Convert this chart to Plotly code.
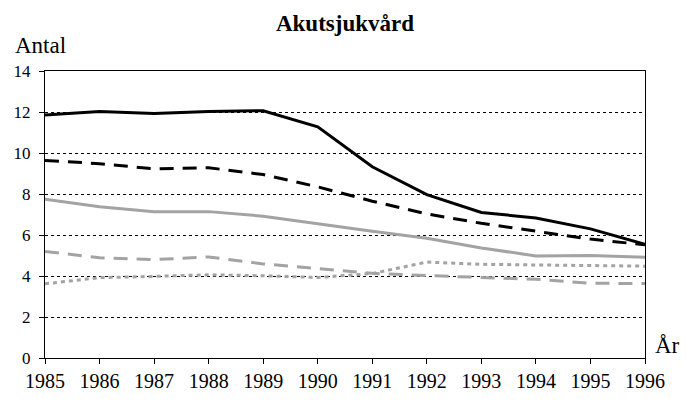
import plotly.graph_objects as go

years = [1985, 1986, 1987, 1988, 1989, 1990, 1991, 1992, 1993, 1994, 1995, 1996]
solid_black = [11.85, 12.03, 11.93, 12.03, 12.06, 11.28, 9.33, 7.97, 7.10, 6.83, 6.30, 5.55]
dashed_black = [9.64, 9.48, 9.23, 9.28, 8.95, 8.35, 7.65, 7.03, 6.57, 6.18, 5.80, 5.52]
solid_gray = [7.75, 7.38, 7.14, 7.14, 6.92, 6.54, 6.18, 5.84, 5.37, 4.98, 5.00, 4.92]
dashed_gray = [5.20, 4.89, 4.80, 4.93, 4.59, 4.36, 4.13, 4.02, 3.93, 3.84, 3.65, 3.63]
dotted_gray = [3.62, 3.92, 3.98, 4.06, 4.01, 3.93, 4.12, 4.68, 4.57, 4.55, 4.50, 4.48]
y_ticks = [0, 2, 4, 6, 8, 10, 12, 14]

FONT = "Liberation Serif"
TICKFONT = "Times New Roman"
GRAY = "#a3a3a3"

fig = go.Figure()
series = [
    (dotted_gray, GRAY, "4px,4px"),
    (dashed_gray, GRAY, "14px,9px"),
    (solid_gray, GRAY, "solid"),
    (dashed_black, "black", "14px,9px"),
    (solid_black, "black", "solid"),
]
for vals, col, dash in series:
    fig.add_trace(go.Scatter(x=years, y=vals, mode="lines",
                             line=dict(color=col, width=3, dash=dash),
                             showlegend=False, hoverinfo="skip"))

fig.update_layout(
    width=686, height=404,
    margin=dict(l=45, r=41, t=71, b=27),
    paper_bgcolor="white", plot_bgcolor="white",
    font=dict(family=FONT, color="black"),
    title=dict(text="<b>Akutsjukvård</b>", x=(45 + 300) / 686, xanchor="center",
               y=1 - 23 / 404, yanchor="middle",
               font=dict(family=FONT, size=23, color="black")),
    annotations=[
        dict(text="Antal", xref="paper", yref="paper", x=-32 / 600, y=(377 - 44) / 306,
             xanchor="left", yanchor="middle", showarrow=False,
             font=dict(family=FONT, size=23, color="black")),
        dict(text="År", xref="paper", yref="paper", x=(682 - 45) / 600, y=(377 - 364) / 306,
             xanchor="right", yanchor="middle", showarrow=False,
             font=dict(family=FONT, size=23, color="black")),
    ],
)
fig.update_xaxes(range=[1985, 1996], tickmode="array", tickvals=years,
                 ticktext=[str(y) for y in years],
                 showline=True, linecolor="black", linewidth=1, mirror=True,
                 ticks="outside", ticklen=5, tickcolor="black",
                 showgrid=False, zeroline=False,
                 tickfont=dict(family=TICKFONT, size=20, color="black"))
fig.update_yaxes(range=[0, 14], tickmode="array", tickvals=y_ticks,
                 ticktext=[str(v) for v in y_ticks],
                 showline=True, linecolor="black", linewidth=1, mirror=True,
                 ticks="outside", ticklen=5, tickcolor="black",
                 ticklabelstandoff=5,
                 showgrid=True, gridcolor="black", gridwidth=1, griddash="dot",
                 zeroline=False,
                 tickfont=dict(family=TICKFONT, size=17, color="black"))

fig.write_html("out.html", config={"displayModeBar": False},
               post_script="document.body.style.margin='0';document.body.style.overflow='hidden';")
